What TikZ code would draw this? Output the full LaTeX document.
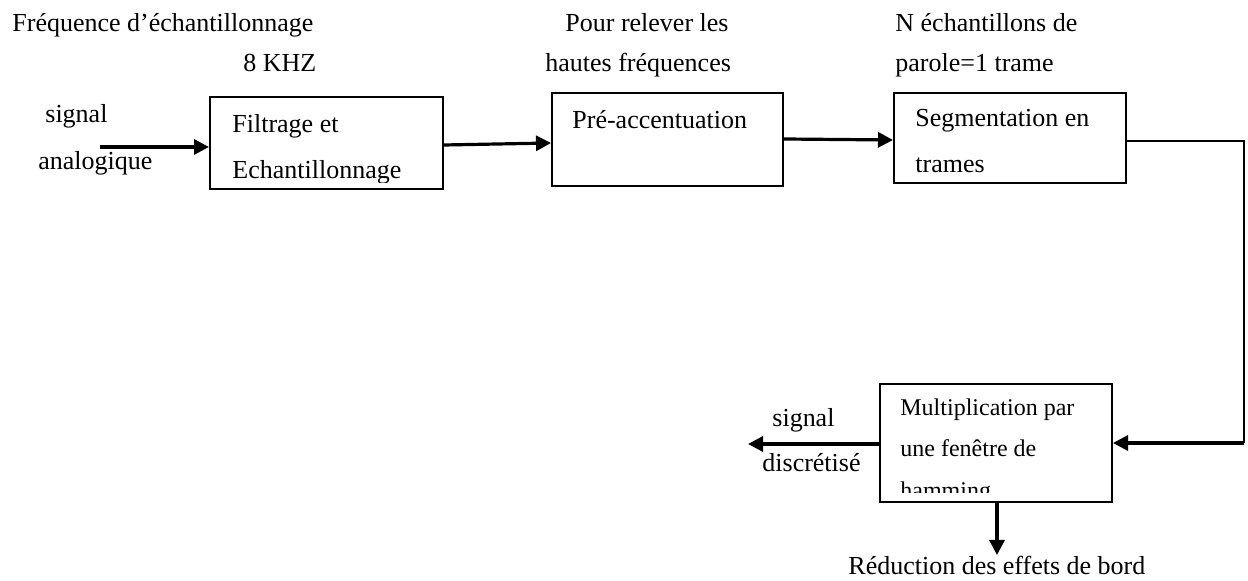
\documentclass[tikz,border=0pt]{standalone}
\usepackage{fontspec}
\setmainfont{Liberation Serif}
\usetikzlibrary{arrows.meta}

\tikzset{
  blockbox/.style={draw=black, line width=1pt, rectangle, inner sep=0pt},
  txt/.style={anchor=base west, inner sep=0pt, font=\fontsize{13}{20}\selectfont},
  smalltxt/.style={anchor=base west, inner sep=0pt, font=\fontsize{12}{20}\selectfont},
  flow/.style={line width=1.6pt, -{Triangle[length=7.5pt,width=7.5pt]}},
  wire/.style={line width=1.2pt}
}

\begin{document}
\begin{tikzpicture}[x=0.5pt,y=-0.5pt]
  \useasboundingbox (0,0) rectangle (1248,581);

  % processing blocks
  \node[blockbox, minimum width=116.5pt, minimum height=46pt] (filt) at (326.5,143) {};
  \node[blockbox, minimum width=115.5pt, minimum height=46.5pt] (pre) at (667.5,139.5) {};
  \node[blockbox, minimum width=116pt, minimum height=45pt] (seg) at (1010,138) {};
  \node[blockbox, minimum width=116pt, minimum height=59pt] (ham) at (996,443) {};

  % block contents, clipped to the inner area of each block
  \begin{scope}
    \clip (filt.north west) rectangle ([yshift=3.5pt]filt.south east);
    \node[txt] (filt1) at (232,133) {Filtrage et};
    \node[txt] (filt2) at (232,179) {Echantillonnage};
  \end{scope}
  \node[txt] (pre1) at (572,129) {Pré-accentuation};
  \begin{scope}
    \clip (seg.north west) rectangle ([yshift=3.5pt]seg.south east);
    \node[txt] (seg1) at (915,127) {Segmentation en};
    \node[txt] (seg2) at (915,173) {trames};
  \end{scope}
  \begin{scope}
    \clip (ham.north west) rectangle ([yshift=5pt]ham.south east);
    \node[smalltxt] (ham1) at (900,416) {Multiplication par};
    \node[smalltxt] (ham2) at (900,457) {une fenêtre de};
    \node[smalltxt] (ham3) at (900,499) {hamming};
  \end{scope}

  % annotations
  \node[txt] (fe1) at (12,32) {Fréquence d’échantillonnage};
  \node[txt] (fe2) at (243,72) {8 KHZ};
  \node[txt] (pr1) at (565,32) {Pour relever les};
  \node[txt] (pr2) at (545,72) {hautes fréquences};
  \node[txt] (ne1) at (895,32) {N échantillons de};
  \node[txt] (ne2) at (895,72) {parole=1 trame};
  \node[txt] (in1) at (45,123) {signal};
  \node[txt] (in2) at (38,170) {analogique};
  \node[txt] (out1) at (772,427) {signal};
  \node[txt] (out2) at (762,472) {discrétisé};
  \node[txt] (red) at (848,575) {Réduction des effets de bord};

  % free ends and corners of the connectors
  \coordinate (src) at (100,147);
  \coordinate (sink) at (748,444);
  \coordinate (edge) at (997,555);
  \coordinate (cornerA) at (1244,141);
  \coordinate (cornerB) at (1244,443);

  % connectors
  \draw[flow] (src) -- (filt.west |- src);
  \draw[flow] (filt.east |- 0,145) -- (pre.west |- 0,143);
  \draw[flow] (pre.east |- 0,139) -- (seg.west |- 0,140);
  \draw[wire] (seg.east |- cornerA) -- (cornerA) -- (cornerB);
  \draw[flow] (cornerB) -- (ham.east |- cornerB);
  \draw[flow] (ham.west |- sink) -- (sink);
  \draw[flow] (ham.south -| edge) -- (edge);
\end{tikzpicture}
\end{document}
